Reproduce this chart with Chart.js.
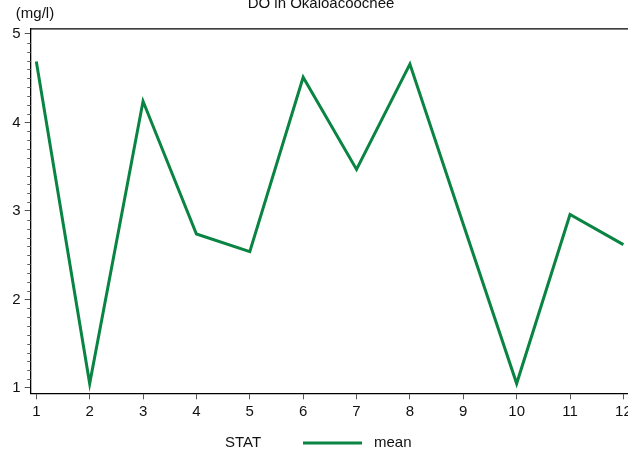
<!DOCTYPE html>
<html>
<head>
<meta charset="utf-8">
<title>DO in Okaloacoochee</title>
<script src="https://cdn.jsdelivr.net/npm/chart.js@4.4.0/dist/chart.umd.min.js"></script>
<style>
    html, body { margin: 0; padding: 0; overflow: hidden; background: #fff; }
    canvas { display: block; }
</style>
</head>
<body>
<canvas id="myChart" width="640" height="459"></canvas>
<script>
// CHART DATA
const months = [1, 2, 3, 4, 5, 6, 7, 8, 9, 10, 11, 12];
const meanValues = [4.69, 1.05, 4.24, 2.74, 2.54, 4.51, 3.47, 4.66, 2.85, 1.05, 2.96, 2.62];
const yTicks = [1, 2, 3, 4, 5];
const xTicks = [1, 2, 3, 4, 5, 6, 7, 8, 9, 10, 11, 12];
const chartTitle = "DO in Okaloacoochee";
const yUnit = "(mg/l)";
const legendTitle = "STAT";
const seriesName = "mean";
// CHART DATA

const lineColor = "#0a8442";
const fontFamily = "Arial, 'Liberation Sans', sans-serif";

// PLUGIN FOR FRAME, MINOR TICKS AND TEXTS
const extras = {
    id: "extras",
    afterDraw: function (chart) {
        const ctx = chart.ctx;
        const area = chart.chartArea;
        const y = chart.scales.y;

        ctx.save();
        // top border
        ctx.strokeStyle = "#000";
        ctx.lineWidth = 1.3;
        ctx.beginPath();
        ctx.moveTo(area.left, area.top + 0.5);
        ctx.lineTo(area.right, area.top + 0.5);
        ctx.stroke();

        // minor ticks on y axis
        ctx.strokeStyle = "#666";
        ctx.lineWidth = 1;
        for (let i = 10; i <= 50; i++) {
            if (i % 10 == 0) continue;
            const py = Math.round(y.getPixelForValue(i / 10)) + 0.5;
            ctx.beginPath();
            ctx.moveTo(area.left - 3.5, py);
            ctx.lineTo(area.left, py);
            ctx.stroke();
        }

        // title and unit
        ctx.fillStyle = "#111";
        ctx.font = "15px " + fontFamily;
        ctx.textAlign = "center";
        ctx.textBaseline = "alphabetic";
        ctx.fillText(chartTitle, 321, 8);
        ctx.textBaseline = "middle";
        ctx.fillText(yUnit, 35, 14);

        // legend
        const ds = chart.data.datasets[0];
        ctx.fillText(legendTitle, 243, 443);
        ctx.strokeStyle = ds.borderColor;
        ctx.lineWidth = 3;
        ctx.beginPath();
        ctx.moveTo(303, 443);
        ctx.lineTo(362, 443);
        ctx.stroke();
        ctx.textAlign = "left";
        ctx.fillText(ds.label, 374, 443);
        ctx.restore();
    },
};
// PLUGIN FOR FRAME, MINOR TICKS AND TEXTS

// VISUALIZATION
function visualization() {
    const ctx = document.getElementById("myChart").getContext("2d");
    new Chart(ctx, {
        type: "line",
        data: {
            datasets: [
                {
                    label: seriesName,
                    data: months.map(function (m, i) {
                        return { x: m, y: meanValues[i] };
                    }),
                    borderColor: lineColor,
                    backgroundColor: lineColor,
                    borderWidth: 3,
                    pointRadius: 0,
                    tension: 0,
                },
            ],
        },
        options: {
            responsive: false,
            animation: false,
            layout: {
                padding: { top: 28.3, left: 0, right: 11, bottom: 0 },
            },
            plugins: {
                legend: { display: false },
                title: { display: false },
                tooltip: { enabled: false },
            },
            scales: {
                x: {
                    type: "linear",
                    min: 0.895,
                    max: 12.105,
                    afterBuildTicks: function (scale) {
                        scale.ticks = xTicks.map(function (v) {
                            return { value: v };
                        });
                    },
                    afterFit: function (scale) {
                        scale.height = 65.7;
                    },
                    grid: {
                        drawOnChartArea: false,
                        drawTicks: true,
                        tickLength: 6,
                        color: "#555",
                    },
                    border: { display: true, color: "#000", width: 1.3 },
                    ticks: {
                        color: "#111",
                        padding: 4,
                        maxRotation: 0,
                        autoSkip: false,
                        font: { family: fontFamily, size: 15 },
                    },
                },
                y: {
                    type: "linear",
                    min: 0.94,
                    max: 5.064,
                    afterBuildTicks: function (scale) {
                        scale.ticks = yTicks.map(function (v) {
                            return { value: v };
                        });
                    },
                    afterFit: function (scale) {
                        scale.width = 30.7;
                    },
                    grid: {
                        drawOnChartArea: false,
                        drawTicks: true,
                        tickLength: 6,
                        color: "#555",
                    },
                    border: { display: true, color: "#000", width: 1.3 },
                    ticks: {
                        color: "#111",
                        padding: 4,
                        font: { family: fontFamily, size: 15 },
                    },
                },
            },
        },
        plugins: [extras],
    });
}
// VISUALIZATION

visualization();
</script>
</body>
</html>
